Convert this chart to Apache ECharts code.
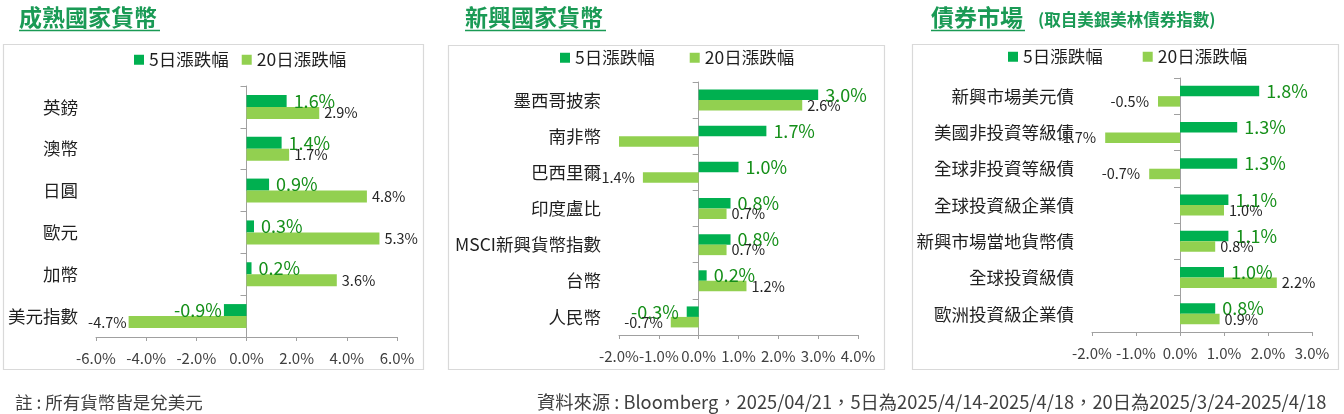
<!DOCTYPE html>
<html>
<head>
    <meta charset="utf-8">
    <script type="text/javascript" src="https://cdn.jsdelivr.net/npm/echarts@6/dist/echarts.min.js"></script>
    <style>
        html, body { margin: 0; padding: 0; background: #fff; }
    </style>
</head>
<body>
<div id="main" style="width:1344px;height:414px;"></div>

<script type="text/javascript">
    // 成熟國家貨幣
    var cats1 = ['英鎊', '澳幣', '日圓', '歐元', '加幣', '美元指數'];
    var d5_1 = [1.6, 1.4, 0.9, 0.3, 0.2, -0.9];
    var d20_1 = [2.9, 1.7, 4.8, 5.3, 3.6, -4.7];
    // 新興國家貨幣
    var cats2 = ['墨西哥披索', '南非幣', '巴西里爾', '印度盧比', 'MSCI新興貨幣指數', '台幣', '人民幣'];
    var d5_2 = [3.0, 1.7, 1.0, 0.8, 0.8, 0.2, -0.3];
    var d20_2 = [2.6, -2.0, -1.4, 0.7, 0.7, 1.2, -0.7];
    // 債券市場
    var cats3 = ['新興市場美元債', '美國非投資等級債', '全球非投資等級債', '全球投資級企業債', '新興市場當地貨幣債', '全球投資級債', '歐洲投資級企業債'];
    var d5_3 = [1.8, 1.3, 1.3, 1.1, 1.1, 1.0, 0.8];
    var d20_3 = [-0.5, -1.7, -0.7, 1.0, 0.8, 2.2, 0.9];
    // x軸範圍
    var axisMin = [-6, -2, -2];
    var axisMax = [6, 4, 3];
    var axisStep = [2, 1, 1];

    var seriesNames = ['5日漲跌幅', '20日漲跌幅'];
    var FONT = '"Noto Sans CJK TC", "Noto Sans", sans-serif';
    var GREEN = '#00b050';
    var LIGHT = '#92d050';
    var TITLE_GREEN = '#1a9a55';

    var myChart = echarts.init(document.getElementById('main'));

    var panels = [
        {cats: cats1, d5: d5_1, d20: d20_1, grid: {left: 96, top: 86, width: 301, height: 251}, bar: 12, neg: 2,
            legend: {left: 134, top: 51, itemGap: 13}},
        {cats: cats2, d5: d5_2, d20: d20_2, grid: {left: 619, top: 82, width: 239, height: 253}, bar: 10.5, neg: 8,
            legend: {left: 560, top: 49, itemGap: 35}},
        {cats: cats3, d5: d5_3, d20: d20_3, grid: {left: 1092, top: 78, width: 220, height: 254}, bar: 10.5, neg: 9,
            legend: {left: 1008, top: 48, itemGap: 40}}
    ];

    // 正值標籤放右邊，負值放左邊；落在軸最小值的不顯示
    function toItems(arr, min, dist, negDist) {
        return arr.map(function (v) {
            return {
                value: v,
                label: {
                    show: v > min,
                    position: v < 0 ? 'left' : 'right',
                    distance: v < 0 ? negDist : dist
                }
            };
        });
    }

    var grids = [], xAxes = [], yAxes = [], legends = [], series = [];
    panels.forEach(function (p, i) {
        grids.push(p.grid);
        xAxes.push({
            type: 'value', gridIndex: i,
            min: axisMin[i], max: axisMax[i], interval: axisStep[i],
            splitLine: {show: false},
            axisLine: {show: true, lineStyle: {color: '#a0a0a0'}},
            axisTick: {show: true, length: 4, lineStyle: {color: '#a0a0a0'}},
            axisLabel: {
                color: '#404040', fontSize: 15, fontFamily: FONT, margin: 14,
                formatter: function (v) { return v.toFixed(1) + '%'; }
            }
        });
        // 類別文字 (固定在左邊)
        yAxes.push({
            type: 'category', gridIndex: i, data: p.cats, inverse: true, position: 'left',
            axisLine: {show: false, onZero: false},
            axisTick: {show: false},
            axisLabel: {color: '#1f1f1f', fontSize: 17.5, fontFamily: FONT, margin: 18}
        });
        // 0軸直線和刻度
        yAxes.push({
            type: 'category', gridIndex: i, data: p.cats, inverse: true, position: 'right',
            axisLine: {show: true, onZero: true, lineStyle: {color: '#a0a0a0'}},
            axisTick: {show: true, inside: true, length: 6, lineStyle: {color: '#a0a0a0'}},
            axisLabel: {show: false}
        });
        legends.push({
            left: p.legend.left, top: p.legend.top, itemGap: p.legend.itemGap, padding: 0,
            itemWidth: 10, itemHeight: 10, icon: 'rect',
            data: seriesNames,
            textStyle: {color: '#1f1f1f', fontSize: 17.5, fontFamily: FONT}
        });
        series.push({
            name: seriesNames[0], type: 'bar', xAxisIndex: i, yAxisIndex: i * 2,
            barWidth: p.bar, barGap: '0%',
            itemStyle: {color: GREEN},
            label: {
                color: '#158f19', fontSize: 18, fontFamily: FONT,
                formatter: function (o) { return o.value.toFixed(1) + '%'; }
            },
            data: toItems(p.d5, axisMin[i], 7, p.neg)
        });
        series.push({
            name: seriesNames[1], type: 'bar', xAxisIndex: i, yAxisIndex: i * 2,
            barWidth: p.bar, barGap: '0%',
            itemStyle: {color: LIGHT},
            label: {
                color: '#262626', fontSize: 14.5, fontFamily: FONT,
                formatter: function (o) { return o.value.toFixed(1) + '%'; }
            },
            data: toItems(p.d20, axisMin[i], 5, p.neg)
        });
    });

    function txt(text, x, y, size, weight, color) {
        return {
            type: 'text', x: x, y: y, z: 10,
            style: {
                text: text, fontSize: size, fontWeight: weight, fontFamily: FONT,
                fill: color, align: 'left', verticalAlign: 'middle'
            }
        };
    }
    function hline(x1, x2, y) {
        return {
            type: 'line', z: 10,
            shape: {x1: x1, y1: y, x2: x2, y2: y},
            style: {stroke: TITLE_GREEN, lineWidth: 1.5}
        };
    }
    function box(x, y, w, h) {
        return {
            type: 'rect', z: -1,
            shape: {x: x, y: y, width: w, height: h},
            style: {fill: 'none', stroke: '#d9d9d9', lineWidth: 1.2}
        };
    }

    var option = {
        animation: false,
        grid: grids,
        xAxis: xAxes,
        yAxis: yAxes,
        legend: legends,
        series: series,
        graphic: [
            box(3.5, 44.5, 420, 325),
            box(448.5, 45.5, 436, 324),
            box(912.5, 44.5, 426, 325),
            txt('成熟國家貨幣', 19, 17, 23, 'bold', TITLE_GREEN),
            hline(19, 160, 30.5),
            txt('新興國家貨幣', 465, 17, 23, 'bold', TITLE_GREEN),
            hline(465, 606, 30.5),
            txt('債券市場', 931, 17, 23, 'bold', TITLE_GREEN),
            hline(931, 1025, 30.5),
            txt('(取自美銀美林債券指數)', 1038, 20, 16.5, 'bold', TITLE_GREEN),
            txt('註 : 所有貨幣皆是兌美元', 15, 402, 17.5, 'normal', '#404040'),
            txt('資料來源 : Bloomberg，2025/04/21，5日為2025/4/14-2025/4/18，20日為2025/3/24-2025/4/18', 537, 402, 18.3, 'normal', '#404040')
        ]
    };
    myChart.setOption(option);
</script>
</body>
</html>
